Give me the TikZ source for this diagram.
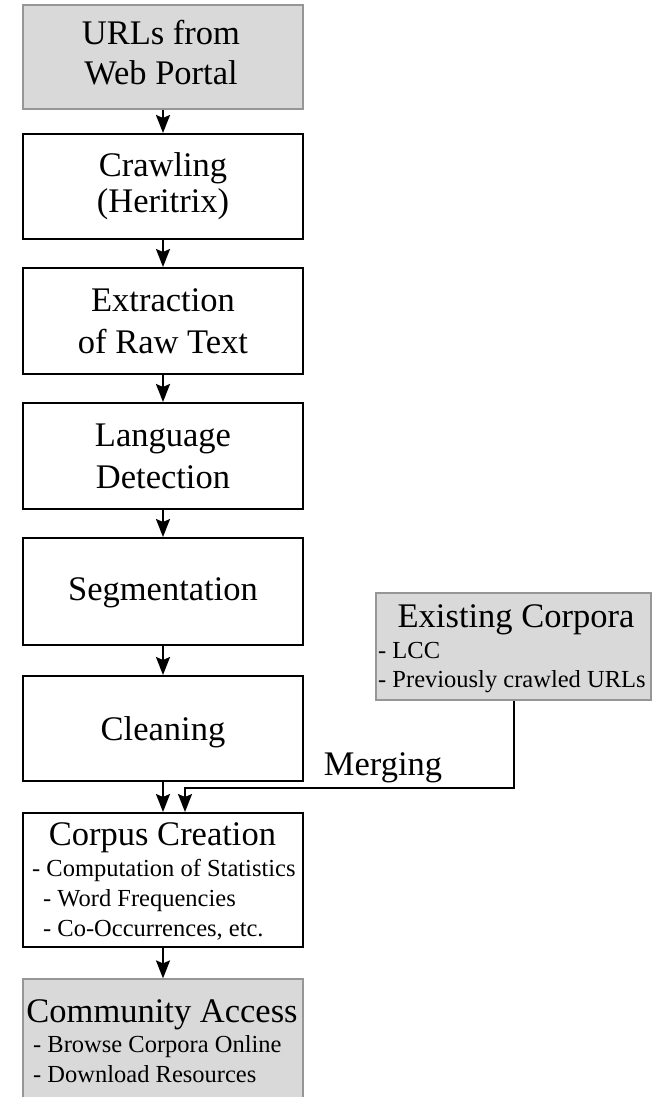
\documentclass[tikz,border=0pt]{standalone}
\usepackage{fontspec}
\setmainfont{Liberation Serif}
\usetikzlibrary{arrows.meta}
\definecolor{boxgray}{RGB}{217,217,217}
\definecolor{edgegray}{RGB}{150,150,150}
\begin{document}
\begin{tikzpicture}[x=1pt,y=-1pt,
  stepbox/.style={draw=black, line width=2pt, fill=white, minimum width=280pt, inner sep=0pt},
  graybox/.style={draw=edgegray, line width=1.2pt, fill=boxgray, inner sep=0pt},
  bigtext/.style={font=\fontsize{34.5}{40}\selectfont, anchor=base, inner sep=0pt},
  subtext/.style={font=\fontsize{24.5}{30}\selectfont, anchor=base west, inner sep=0pt},
  arr/.style={line width=2pt, -{Stealth[length=18pt,width=14pt,inset=3pt]}}
]
\clip (0,0) rectangle (658,1097);
\fill[white] (0,0) rectangle (658,1097);

% boxes
\node[graybox, minimum width=280pt, minimum height=104pt] (urls) at (163,57) {};
\node[stepbox, minimum height=105pt] (crawl) at (163,186.5) {};
\node[stepbox, minimum height=106pt] (extract) at (163,321) {};
\node[stepbox, minimum height=106pt] (lang) at (163,456) {};
\node[stepbox, minimum height=107pt] (seg) at (163,591.5) {};
\node[stepbox, minimum height=105pt] (clean) at (163,728.5) {};
\node[stepbox, minimum height=134pt] (corpus) at (163,880) {};
\node[graybox, minimum width=280pt, minimum height=140pt] (access) at (163,1049) {};
\node[graybox, minimum width=275pt, minimum height=107pt] (exist) at (513.5,646.5) {};

% texts
\node[bigtext] (urlsA) at (161,45) {URLs from};
\node[bigtext] (urlsB) at (161,85) {Web Portal};
\node[bigtext] (crawlA) at (163,176) {Crawling};
\node[bigtext] (crawlB) at (163,212) {(Heritrix)};
\node[bigtext] (extractA) at (163,311) {Extraction};
\node[bigtext] (extractB) at (163,353) {of Raw Text};
\node[bigtext] (langA) at (163,446) {Language};
\node[bigtext] (langB) at (163,488) {Detection};
\node[bigtext] (segA) at (163,600) {Segmentation};
\node[bigtext] (cleanA) at (163,740) {Cleaning};

\node[bigtext] (corpusA) at (162.5,845) {Corpus Creation};
\node[subtext] (corpusB) at (32,876) {- Computation of Statistics};
\node[subtext] (corpusC) at (43,906) {- Word Frequencies};
\node[subtext] (corpusD) at (43,936) {- Co-Occurrences, etc.};

\node[bigtext] (accessA) at (162,1022) {Community Access};
\node[subtext] (accessB) at (33,1052) {- Browse Corpora Online};
\node[subtext] (accessC) at (33,1082) {- Download Resources};

\node[bigtext] (existA) at (516,627) {Existing Corpora};
\node[subtext] (existB) at (378,658) {- LCC};
\node[subtext] (existC) at (378,687) {- Previously crawled URLs};

\node[bigtext] (merge) at (383,775) {Merging};

% connectors
\draw[arr] (urls.south) -- (crawl.north);
\draw[arr] (crawl.south) -- (extract.north);
\draw[arr] (extract.south) -- (lang.north);
\draw[arr] (lang.south) -- (seg.north);
\draw[arr] (seg.south) -- (clean.north);
\draw[arr] (clean.south) -- (corpus.north);
\draw[arr] (corpus.south) -- (access.north);
\coordinate (m1) at (513.5,788);
\coordinate (m2) at (185,788);
\draw[arr] (exist.south) -- (m1) -- (m2) -- (m2 |- corpus.north);
\end{tikzpicture}
\end{document}
